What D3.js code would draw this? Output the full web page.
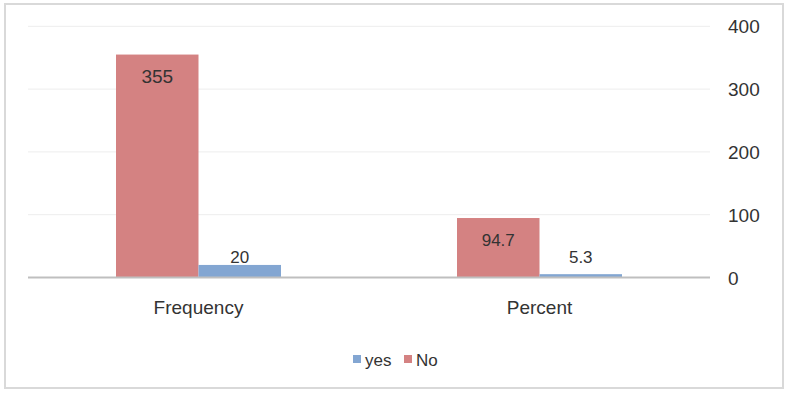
<!DOCTYPE html>
<html>
<head>
<meta charset="utf-8">
<script src="https://cdn.jsdelivr.net/npm/d3@7"></script>
<style>
    body { margin: 0; background: #fff; }
    svg { display: block; font-family: "Liberation Sans", Arial, sans-serif; }
</style>
</head>
<body>
<svg width="788" height="393"></svg>
<script>
const categories = ["Frequency", "Percent"];
const seriesNames = ["No", "yes"];
const noValues = [355, 94.7];
const yesValues = [20, 5.3];
const yTicks = [0, 100, 200, 300, 400];
const legendOrder = ["yes", "No"];

const colors = { No: "#d48282", yes: "#83a6d2" };

function buildRows() {
    return categories.map((c, i) => ({
        label: c,
        values: { No: noValues[i], yes: yesValues[i] }
    }));
}

function drawChart() {
    const svg = d3.select("svg");
    const rows = buildRows();

    const area = { left: 28, right: 710, top: 26.3, bottom: 277.5 };

    // frame
    svg.append("rect")
        .attr("x", 5).attr("y", 4)
        .attr("width", 778).attr("height", 384)
        .attr("fill", "none")
        .attr("stroke", "#d9d9d9")
        .attr("stroke-width", 2);

    const scX = d3.scaleBand()
        .domain(categories)
        .range([area.left, area.right])
        .paddingInner(0)
        .paddingOuter(0);

    const scInner = d3.scaleBand()
        .domain(seriesNames)
        .range([0, 165])
        .padding(0);

    const scY = d3.scaleLinear()
        .domain([0, 400])
        .range([area.bottom, area.top]);

    // gridlines
    svg.append("g")
        .selectAll("line")
        .data(yTicks.filter(t => t > 0))
        .enter()
        .append("line")
        .attr("x1", area.left)
        .attr("x2", area.right)
        .attr("y1", d => scY(d))
        .attr("y2", d => scY(d))
        .attr("stroke", "#ededed")
        .attr("stroke-width", 1);

    // y axis on the right, labels only
    const axisY = d3.axisRight(scY).tickValues(yTicks).tickSize(0).tickPadding(0);
    const gY = svg.append("g")
        .attr("transform", "translate(728, 0)")
        .call(axisY);
    gY.select(".domain").remove();
    gY.selectAll("text")
        .style("font-size", "19px")
        .style("font-family", "'Liberation Sans', Arial, sans-serif")
        .attr("fill", "#333")
        .attr("dy", "0.35em");

    // bars
    const groups = svg.append("g")
        .selectAll("g")
        .data(rows)
        .enter()
        .append("g")
        .attr("transform", d => `translate(${scX(d.label) + (scX.bandwidth() - 165) / 2}, 0)`);

    groups.selectAll("rect")
        .data(d => seriesNames.map(s => ({ key: s, value: d.values[s] })))
        .enter()
        .append("rect")
        .attr("x", d => scInner(d.key))
        .attr("y", d => scY(d.value))
        .attr("width", scInner.bandwidth())
        .attr("height", d => scY(0) - scY(d.value))
        .attr("fill", d => colors[d.key]);

    groups.selectAll("text")
        .data(d => seriesNames.map(s => ({ key: s, value: d.values[s] })))
        .enter()
        .append("text")
        .attr("x", d => scInner(d.key) + scInner.bandwidth() / 2)
        .attr("y", d => {
            const h = scY(0) - scY(d.value);
            return h > 40 ? scY(d.value) + 28 : scY(0) - 15;
        })
        .attr("text-anchor", "middle")
        .style("font-size", d => d.value > 300 ? "19px" : "17px")
        .attr("fill", "#333")
        .text(d => d.value);

    // baseline
    svg.append("line")
        .attr("x1", area.left)
        .attr("x2", area.right)
        .attr("y1", scY(0))
        .attr("y2", scY(0))
        .attr("stroke", "#bfbfbf")
        .attr("stroke-width", 2);

    // category labels
    svg.append("g")
        .selectAll("text")
        .data(categories)
        .enter()
        .append("text")
        .attr("x", d => scX(d) + scX.bandwidth() / 2)
        .attr("y", 314)
        .attr("text-anchor", "middle")
        .style("font-size", "19px")
        .attr("fill", "#333")
        .text(d => d);

    // legend
    const legendX = { yes: 353, No: 404 };
    const legend = svg.append("g")
        .selectAll("g")
        .data(legendOrder)
        .enter()
        .append("g")
        .attr("transform", d => `translate(${legendX[d]}, 355)`);

    legend.append("rect")
        .attr("width", 8)
        .attr("height", 8)
        .attr("fill", d => colors[d]);

    legend.append("text")
        .attr("x", 12)
        .attr("y", 11)
        .style("font-size", "17px")
        .attr("fill", "#333")
        .text(d => d);
}

drawChart();
</script>
</body>
</html>
